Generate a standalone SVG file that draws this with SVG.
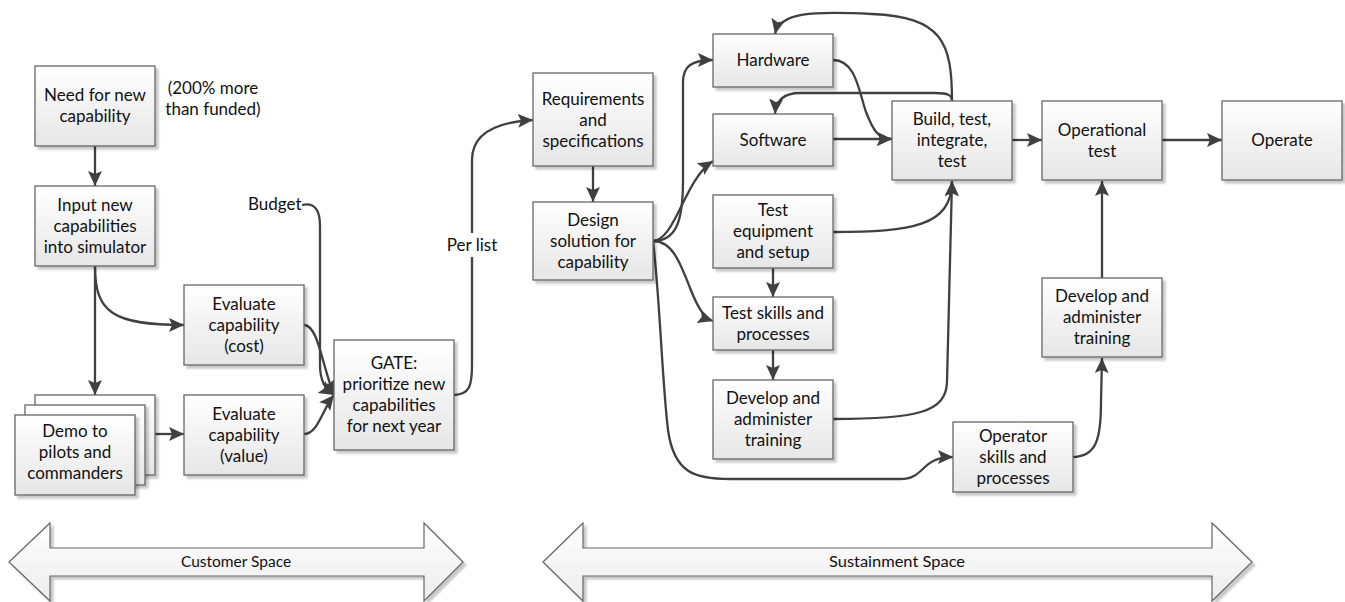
<svg xmlns="http://www.w3.org/2000/svg" width="1345" height="602" viewBox="0 0 1345 602">
  <defs>
    <linearGradient id="boxFill" x1="0" y1="0" x2="0" y2="1">
      <stop offset="0" stop-color="#ffffff"/>
      <stop offset="1" stop-color="#e6e6e6"/>
    </linearGradient>
    <linearGradient id="bandFill" x1="0" y1="0" x2="0" y2="1">
      <stop offset="0" stop-color="#ffffff"/>
      <stop offset="1" stop-color="#ececec"/>
    </linearGradient>
    <filter id="shadow" x="-10%" y="-10%" width="130%" height="130%">
      <feDropShadow dx="3" dy="3" stdDeviation="1.2" flood-color="#000" flood-opacity="0.22"/>
    </filter>
    <marker id="arrow" markerUnits="userSpaceOnUse" markerWidth="16" markerHeight="16" refX="15" refY="7" orient="auto">
      <path d="M0,0 L15,7 L0,14 L3,7 z" fill="#404040"/>
    </marker>
  </defs>
  <style>
    .box { fill: url(#boxFill); stroke: #666; stroke-width: 1.3; filter: url(#shadow); }
    .band { fill: url(#bandFill); stroke: #666; stroke-width: 1.2; filter: url(#shadow); }
    .lbl { font-family: Lato, "Liberation Sans", sans-serif; font-size: 17px; fill: #111; text-anchor: middle; }
    .free { font-family: Lato, "Liberation Sans", sans-serif; font-size: 17px; fill: #111; }
    .small { font-family: Lato, "Liberation Sans", sans-serif; font-size: 15.5px; fill: #111; text-anchor: middle; }
    .wire { fill: none; stroke: #404040; stroke-width: 2.3; }
    .tip { marker-end: url(#arrow); }
  </style>

  <rect width="1345" height="602" fill="#ffffff"/>

  <!-- span bands along the bottom -->
  <g id="customer-space">
    <polygon class="band" points="9,562 50,523 50,548 424,548 424,523 463,562 424,601 424,576 50,576 50,601"/>
    <text class="small" x="236" y="567">Customer Space</text>
  </g>
  <g id="sustainment-space">
    <polygon class="band" points="543,562 583,523 583,548 1212,548 1212,523 1252,562 1212,601 1212,576 583,576 583,601"/>
    <text class="small" x="897" y="567" textLength="136" lengthAdjust="spacingAndGlyphs">Sustainment Space</text>
  </g>

  <!-- connectors -->
  <g id="connectors">
    <path class="wire tip" d="M95,145 L95,186"/>
    <path class="wire tip" d="M95,266 L95,395"/>
    <path class="wire tip" d="M95,266 C95,312 112,325 184,325"/>
    <path class="wire tip" d="M154,434 L184,434"/>
    <path class="wire tip" d="M304,325 C318,325 322,365 334,395"/>
    <path class="wire tip" d="M304,434 C318,434 322,410 334,395"/>
    <path class="wire tip" d="M302,205 C316,202 320,212 320,226 L320,365 C320,380 326,390 334,395"/>
    <path class="wire tip" d="M453,395 C470,395 472,385 472,365 L472,160 C472,132 498,122 533,120"/>
    <path class="wire tip" d="M593,166 L593,202"/>
    <path class="wire tip" d="M653,241 C676,241 683,222 683,180 L683,82 C683,66 692,60 713,60"/>
    <path class="wire tip" d="M653,241 C676,239 684,180 713,161"/>
    <path class="wire tip" d="M653,241 C672,241 680,262 690,288 C698,308 704,318 713,321"/>
    <path class="wire tip" d="M653,241 C660,300 662,380 668,430 C674,474 696,479 730,479 L900,479 C926,479 920,457 953,457"/>
    <path class="wire tip" d="M833,60 C856,60 859,92 866,112 C873,130 878,139 892,139"/>
    <path class="wire tip" d="M833,139 L892,139"/>
    <path class="wire tip" d="M952,101 C952,42 942,17 872,14 C812,11 780,12 775,34"/>
    <path class="wire tip" d="M952,101 C952,95 948,93 935,93 L800,93 C785,93 776,100 775,114"/>
    <path class="wire tip" d="M1012,140 L1042,140"/>
    <path class="wire tip" d="M1162,140 L1222,140"/>
    <path class="wire tip" d="M833,232 C912,232 952,226 952,181"/>
    <path class="wire tip" d="M833,419 C918,419 946,412 947,382 L952,181"/>
    <path class="wire tip" d="M773,268 L773,297"/>
    <path class="wire tip" d="M773,350 L773,380"/>
    <path class="wire tip" d="M1072,457 C1096,457 1101,440 1101,402 L1102,358"/>
    <path class="wire tip" d="M1102,278 L1102,181"/>
  </g>

  <!-- free labels -->
  <g id="note-funding">
    <text class="free" text-anchor="middle" x="213" y="94">(200% more</text>
    <text class="free" text-anchor="middle" x="213" y="115">than funded)</text>
  </g>
  <g id="label-budget">
    <text class="free" x="248" y="210">Budget</text>
  </g>
  <g id="label-per-list">
    <rect x="446" y="233" width="52" height="24" fill="#ffffff"/>
    <text class="free" text-anchor="middle" x="472" y="251">Per list</text>
  </g>

  <!-- nodes -->
  <g id="need">
    <rect class="box" x="35" y="66" width="120" height="80"/>
    <text class="lbl" x="95" y="101">Need for new</text>
    <text class="lbl" x="95" y="122">capability</text>
  </g>
  <g id="input">
    <rect class="box" x="35" y="186" width="120" height="80"/>
    <text class="lbl" x="95" y="211">Input new</text>
    <text class="lbl" x="95" y="232">capabilities</text>
    <text class="lbl" x="95" y="253">into simulator</text>
  </g>
  <g id="eval-cost">
    <rect class="box" x="184" y="285" width="120" height="80"/>
    <text class="lbl" x="244" y="310">Evaluate</text>
    <text class="lbl" x="244" y="331">capability</text>
    <text class="lbl" x="244" y="352">(cost)</text>
  </g>
  <g id="demo">
    <rect class="box" x="35" y="395" width="120" height="80"/>
    <rect class="box" x="25" y="405" width="120" height="80"/>
    <rect class="box" x="15" y="415" width="120" height="80"/>
    <text class="lbl" x="75" y="437">Demo to</text>
    <text class="lbl" x="75" y="458">pilots and</text>
    <text class="lbl" x="75" y="479">commanders</text>
  </g>
  <g id="eval-value">
    <rect class="box" x="184" y="395" width="120" height="80"/>
    <text class="lbl" x="244" y="420">Evaluate</text>
    <text class="lbl" x="244" y="441">capability</text>
    <text class="lbl" x="244" y="462">(value)</text>
  </g>
  <g id="gate">
    <rect class="box" x="334" y="340" width="120" height="110"/>
    <text class="lbl" x="394" y="369">GATE:</text>
    <text class="lbl" x="394" y="390">prioritize new</text>
    <text class="lbl" x="394" y="411">capabilities</text>
    <text class="lbl" x="394" y="432">for next year</text>
  </g>
  <g id="requirements">
    <rect class="box" x="533" y="73" width="120" height="93"/>
    <text class="lbl" x="593" y="105">Requirements</text>
    <text class="lbl" x="593" y="126">and</text>
    <text class="lbl" x="593" y="147">specifications</text>
  </g>
  <g id="design">
    <rect class="box" x="533" y="202" width="120" height="78"/>
    <text class="lbl" x="593" y="226">Design</text>
    <text class="lbl" x="593" y="247">solution for</text>
    <text class="lbl" x="593" y="268">capability</text>
  </g>
  <g id="hardware">
    <rect class="box" x="713" y="34" width="120" height="53"/>
    <text class="lbl" x="773" y="66">Hardware</text>
  </g>
  <g id="software">
    <rect class="box" x="713" y="114" width="120" height="52"/>
    <text class="lbl" x="773" y="146">Software</text>
  </g>
  <g id="test-equipment">
    <rect class="box" x="713" y="195" width="120" height="73"/>
    <text class="lbl" x="773" y="216">Test</text>
    <text class="lbl" x="773" y="237">equipment</text>
    <text class="lbl" x="773" y="258">and setup</text>
  </g>
  <g id="test-skills">
    <rect class="box" x="713" y="297" width="120" height="53"/>
    <text class="lbl" x="773" y="319">Test skills and</text>
    <text class="lbl" x="773" y="340">processes</text>
  </g>
  <g id="training-test">
    <rect class="box" x="713" y="380" width="120" height="79"/>
    <text class="lbl" x="773" y="404">Develop and</text>
    <text class="lbl" x="773" y="425">administer</text>
    <text class="lbl" x="773" y="446">training</text>
  </g>
  <g id="build">
    <rect class="box" x="892" y="101" width="120" height="79"/>
    <text class="lbl" x="952" y="125">Build, test,</text>
    <text class="lbl" x="952" y="146">integrate,</text>
    <text class="lbl" x="952" y="167">test</text>
  </g>
  <g id="operational-test">
    <rect class="box" x="1042" y="101" width="120" height="79"/>
    <text class="lbl" x="1102" y="136">Operational</text>
    <text class="lbl" x="1102" y="157">test</text>
  </g>
  <g id="operate">
    <rect class="box" x="1222" y="101" width="120" height="79"/>
    <text class="lbl" x="1282" y="146">Operate</text>
  </g>
  <g id="training-operator">
    <rect class="box" x="1042" y="278" width="120" height="79"/>
    <text class="lbl" x="1102" y="302">Develop and</text>
    <text class="lbl" x="1102" y="323">administer</text>
    <text class="lbl" x="1102" y="344">training</text>
  </g>
  <g id="operator-skills">
    <rect class="box" x="953" y="422" width="120" height="70"/>
    <text class="lbl" x="1013" y="442">Operator</text>
    <text class="lbl" x="1013" y="463">skills and</text>
    <text class="lbl" x="1013" y="484">processes</text>
  </g>
</svg>
